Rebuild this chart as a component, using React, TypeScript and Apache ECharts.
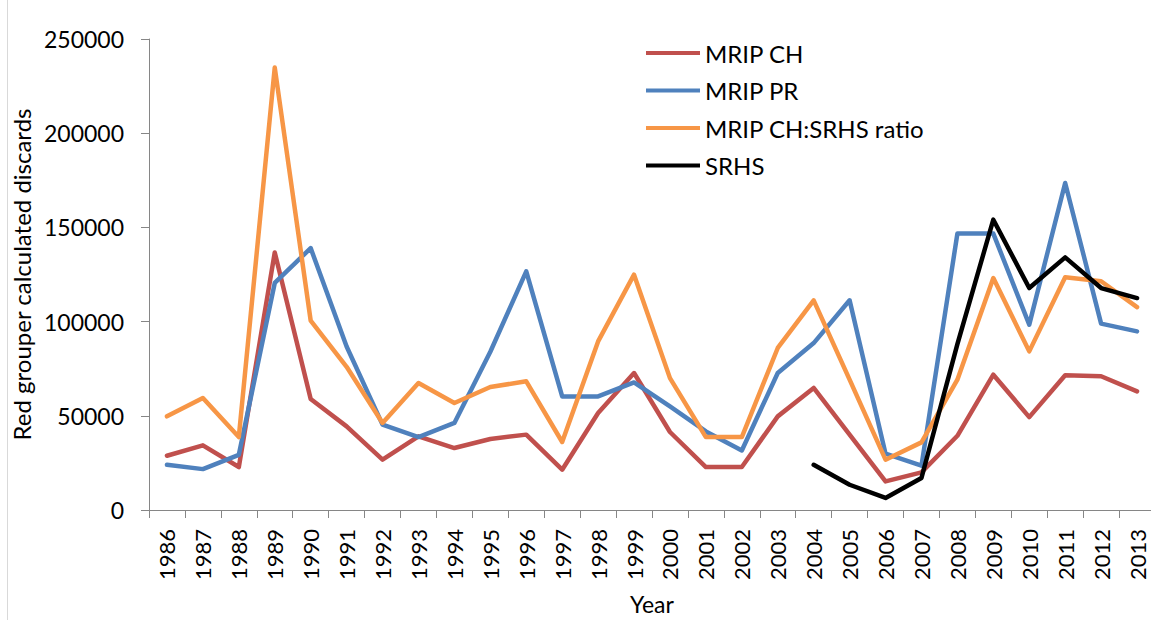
import React, { useEffect, useRef } from "react";
import * as echarts from "echarts";

const years = [
  "1986", "1987", "1988", "1989", "1990", "1991", "1992", "1993", "1994", "1995",
  "1996", "1997", "1998", "1999", "2000", "2001", "2002", "2003", "2004", "2005",
  "2006", "2007", "2008", "2009", "2010", "2011", "2012", "2013",
];

const mripCH = [
  28800, 34300, 22800, 136700, 58900, 44400, 26700, 39100, 32900, 37700,
  40000, 21400, 51500, 72700, 41400, 22800, 22800, 49700, 64800, 40000,
  15200, 20000, 39400, 71800, 49300, 71500, 71000, 63000,
];

const mripPR = [
  24000, 21700, 29300, 120500, 139000, 86800, 45300, 38700, 46200, 84000,
  126700, 60300, 60300, 67700, 55000, 41700, 31600, 72700, 88600, 111300,
  29900, 23500, 146700, 146700, 98400, 173600, 98900, 94800,
];

const mripRatio = [
  49700, 59400, 38700, 234900, 100500, 76000, 46200, 67400, 56800, 65300,
  68300, 36100, 89500, 124900, 70000, 38700, 38700, 86000, 111300, 69200,
  26700, 35900, 69200, 123100, 84200, 123500, 121400, 107700,
];

const srhs = [
  null, null, null, null, null, null, null, null, null, null,
  null, null, null, null, null, null, null, null, 24000, 13400,
  6400, 17000, 88000, 154100, 117800, 134100, 117800, 112500,
];

const yTicks = [0, 50000, 100000, 150000, 200000, 250000];

const seriesNames = ["MRIP CH", "MRIP PR", "MRIP CH:SRHS ratio", "SRHS"];
const seriesColors = ["#C0504D", "#4F81BD", "#F79646", "#000000"];
const seriesData = [mripCH, mripPR, mripRatio, srhs];

const FONT = "Lato";

export default function App() {
  const ref = useRef<HTMLDivElement>(null);

  useEffect(() => {
    if (!ref.current) return;
    const chart = echarts.init(ref.current, undefined, { renderer: "svg" });
    chart.setOption({
      animation: false,
      backgroundColor: "#ffffff",
      color: seriesColors,
      textStyle: { fontFamily: FONT },
      graphic: [
        {
          type: "line",
          shape: { x1: 7.5, y1: 0, x2: 7.5, y2: 620 },
          style: { stroke: "#d9d9d9", lineWidth: 1 },
        },
      ],
      legend: {
        orient: "vertical",
        left: 641,
        top: 36,
        icon: "rect",
        itemWidth: 54,
        itemHeight: 4,
        itemGap: 13.5,
        data: seriesNames,
        textStyle: { fontFamily: FONT, fontSize: 24, lineHeight: 24, color: "#000" },
      },
      grid: {
        left: 149,
        right: -4,
        top: 39,
        bottom: 110,
        containLabel: false,
        outerBoundsMode: "none",
      },
      xAxis: {
        type: "category",
        data: years,
        boundaryGap: true,
        name: "Year",
        nameLocation: "middle",
        nameGap: 82,
        nameTextStyle: { fontFamily: FONT, fontSize: 23, color: "#000" },
        axisLine: { show: true, lineStyle: { color: "#868686", width: 1 } },
        axisTick: { show: true, alignWithLabel: false, length: 8, lineStyle: { color: "#868686" } },
        axisLabel: {
          rotate: 90,
          margin: 19,
          interval: 0,
          fontFamily: FONT,
          fontSize: 22,
          color: "#000",
        },
        splitLine: { show: false },
      },
      yAxis: {
        type: "value",
        min: 0,
        max: yTicks[yTicks.length - 1],
        interval: yTicks[1] - yTicks[0],
        name: "Red grouper calculated discards",
        nameLocation: "middle",
        nameGap: 112,
        nameTextStyle: { fontFamily: FONT, fontSize: 24, color: "#000" },
        axisLine: { show: true, lineStyle: { color: "#868686", width: 1 } },
        axisTick: { show: true, length: 8, lineStyle: { color: "#868686" } },
        axisLabel: {
          margin: 25,
          fontFamily: FONT,
          fontSize: 23,
          color: "#000",
          formatter: (v: number) => String(v),
        },
        splitLine: { show: false },
      },
      series: seriesNames.map((name, i) => ({
        name,
        type: "line",
        data: seriesData[i],
        symbol: "none",
        showSymbol: false,
        connectNulls: false,
        lineStyle: { width: 4.5, color: seriesColors[i], join: "round", cap: "round" },
        itemStyle: { color: seriesColors[i] },
        z: i === 3 ? 5 : 2 + i,
      })),
    });
    return () => chart.dispose();
  }, []);

  return (
    <div
      ref={ref}
      style={{ position: "fixed", left: 0, top: 0, width: 1151, height: 620, background: "#fff" }}
    />
  );
}
